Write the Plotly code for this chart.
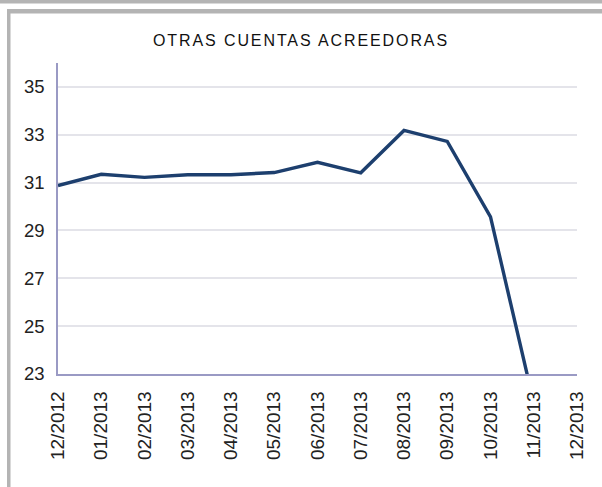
import plotly.graph_objects as go

# Month labels along the x axis and the monthly values of the series
months = ["12/2012", "01/2013", "02/2013", "03/2013", "04/2013", "05/2013",
          "06/2013", "07/2013", "08/2013", "09/2013", "10/2013", "11/2013",
          "12/2013"]
series_months = months[:12]
values = [30.88, 31.35, 31.22, 31.33, 31.33, 31.42, 31.85, 31.41, 33.18,
          32.72, 29.57, 21.8]
y_ticks = [23, 25, 27, 29, 31, 33, 35]

W, H = 602, 487
L, R, T, B = 58, 25, 63, 113
pw, ph = W - L - R, H - T - B


def px(x):
    return (x - L) / pw


def py(y):
    return (H - B - y) / ph


fig = go.Figure()
fig.add_trace(go.Scatter(
    x=series_months, y=values, mode="lines",
    line=dict(color="#1d3f6e", width=3.4),
    hoverinfo="x+y", showlegend=False,
))

frame = "#b4b4b4"
shapes = [
    dict(type="rect", xref="paper", yref="paper", x0=px(0), x1=px(W),
         y0=py(3.5), y1=py(0), fillcolor=frame, line_width=0, layer="below"),
    dict(type="rect", xref="paper", yref="paper", x0=px(7), x1=px(W),
         y0=py(13.5), y1=py(9), fillcolor=frame, line_width=0, layer="below"),
    dict(type="rect", xref="paper", yref="paper", x0=px(7), x1=px(10.5),
         y0=py(H), y1=py(9), fillcolor=frame, line_width=0, layer="below"),
]

fig.update_layout(
    width=W, height=H,
    margin=dict(l=L, r=R, t=T, b=B, pad=0),
    paper_bgcolor="white", plot_bgcolor="white",
    font=dict(family="Liberation Sans, Arial, sans-serif", color="#222222"),
    title=dict(
        text='<span style="letter-spacing:1.9px">OTRAS CUENTAS ACREEDORAS</span>',
        x=0.5, xanchor="center", xref="container",
        y=1 - 40 / H, yanchor="middle", yref="container",
        font=dict(size=16, color="#111111"),
    ),
    shapes=shapes,
    xaxis=dict(
        type="category", categoryorder="array", categoryarray=months,
        range=[0, 12], tickmode="array", tickvals=months, ticktext=months,
        tickangle=-90, tickfont=dict(size=19, color="#222222"),
        showgrid=False, showline=True, linecolor="#9a9ac4", linewidth=1.5,
        ticks="outside", ticklen=8, tickcolor="rgba(0,0,0,0)",
        zeroline=False, fixedrange=True,
    ),
    yaxis=dict(
        range=[23, 36], tickmode="array", tickvals=y_ticks,
        tickfont=dict(size=18.5, color="#222222"),
        showgrid=True, gridcolor="#e4e4ea", gridwidth=1.5,
        showline=True, linecolor="#9a9ac4", linewidth=1.5,
        ticks="outside", ticklen=8, tickcolor="rgba(0,0,0,0)",
        zeroline=False, fixedrange=True,
    ),
)

fig.write_html("out.html")
